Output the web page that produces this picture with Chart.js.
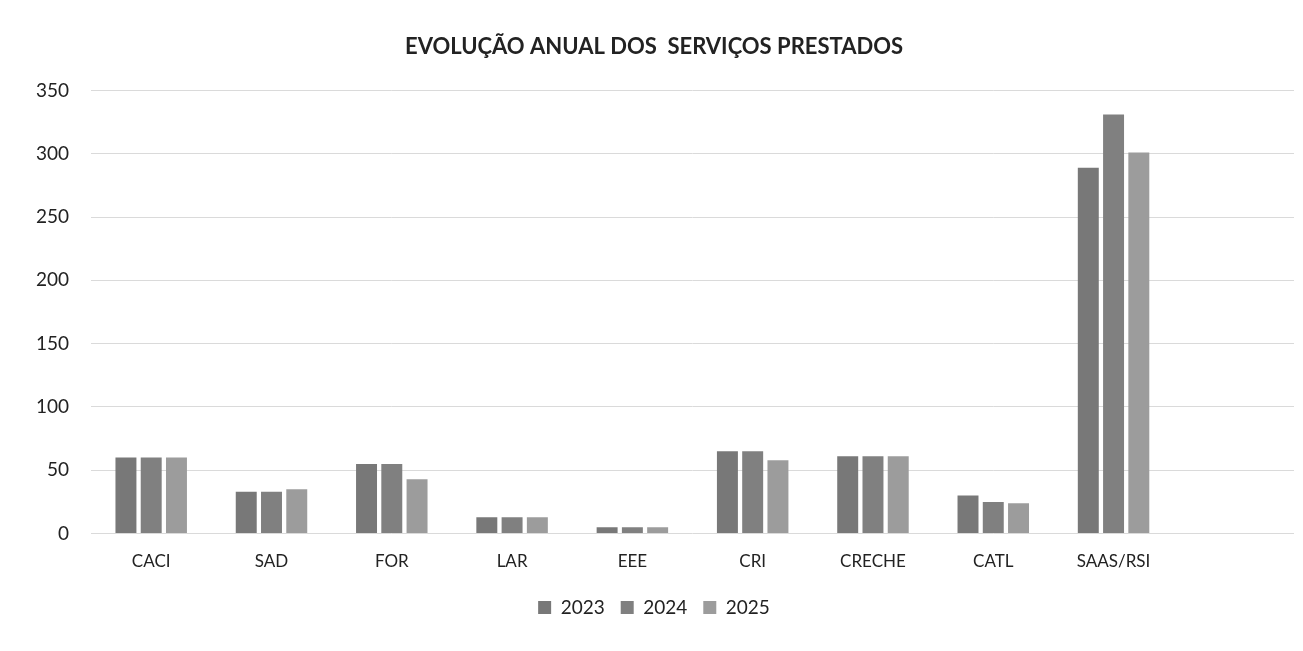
<!DOCTYPE html>
<html>
<head>
<meta charset="utf-8">
<script src="https://cdn.jsdelivr.net/npm/chart.js@4.4.1/dist/chart.umd.min.js"></script>
<style>
  html, body { margin: 0; padding: 0; background: #fff; }
  #wrap { width: 1303px; height: 651px; }
</style>
</head>
<body>
<div id="wrap"><canvas id="grafico"></canvas></div>
<script>
// categorias (a ultima fica vazia, como no original)
const categorias = ["CACI", "SAD", "FOR", "LAR", "EEE", "CRI", "CRECHE", "CATL", "SAAS/RSI", ""];
const anos = ["2023", "2024", "2025"];
const valores2023 = [60, 33, 55, 13, 5, 65, 61, 30, 289, null];
const valores2024 = [60, 33, 55, 13, 5, 65, 61, 25, 331, null];
const valores2025 = [60, 35, 43, 13, 5, 58, 61, 24, 301, null];
const cores = ["#787878", "#808080", "#9c9c9c"];

const fonte = "Lato, 'Open Sans', sans-serif";

new Chart("grafico", {
  type: "bar",
  data: {
    labels: categorias,
    datasets: [
      { label: anos[0], data: valores2023, backgroundColor: cores[0] },
      { label: anos[1], data: valores2024, backgroundColor: cores[1] },
      { label: anos[2], data: valores2025, backgroundColor: cores[2] }
    ]
  },
  options: {
    responsive: true,
    maintainAspectRatio: false,
    animation: false,
    layout: { padding: { left: 14, right: 9, top: 34, bottom: 24 } },
    datasets: { bar: { categoryPercentage: 0.63, barPercentage: 0.83 } },
    plugins: {
      title: {
        display: true,
        text: "EVOLUÇÃO ANUAL DOS  SERVIÇOS PRESTADOS",
        color: "#222",
        font: { family: fonte, size: 22, weight: "bold" },
        padding: { top: 0, bottom: 30 }
      },
      legend: {
        position: "bottom",
        labels: {
          color: "#222",
          font: { family: fonte, size: 19 },
          boxWidth: 13,
          boxHeight: 13,
          padding: 16
        }
      },
      tooltip: { enabled: false }
    },
    scales: {
      x: {
        grid: { display: false },
        border: { display: false },
        ticks: { color: "#222", font: { family: fonte, size: 17 }, padding: 10 }
      },
      y: {
        min: 0,
        max: 350,
        ticks: { stepSize: 50, color: "#222", font: { family: fonte, size: 19 }, padding: 22 },
        grid: { color: "#dadada", drawTicks: false },
        border: { display: false }
      }
    }
  }
});
</script>
</body>
</html>
